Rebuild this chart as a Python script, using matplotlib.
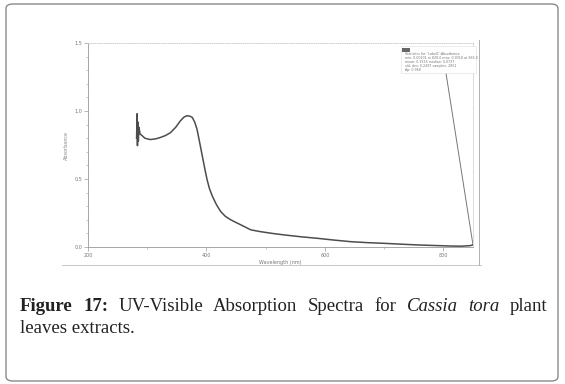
import matplotlib
matplotlib.use('Agg')
import matplotlib.pyplot as plt
from matplotlib.patches import FancyBboxPatch, Rectangle
from matplotlib.lines import Line2D

# Absorbance spectrum.
wavelength = [282, 283, 283.5, 284, 285, 286, 288, 291, 296, 305, 314, 322,
              331, 339, 348, 356, 362, 367, 372, 376, 380, 384, 388, 393,
              397, 401, 405, 410, 417, 424, 432, 441, 450, 458, 475, 491,
              511, 531, 560, 587, 615, 644, 672, 700, 728, 757, 785, 813,
              830, 845, 850]
absorbance = [0.80, 0.98, 0.745, 0.92, 0.78, 0.88, 0.83, 0.82, 0.80, 0.79,
              0.795, 0.805, 0.82, 0.84, 0.88, 0.928, 0.955, 0.965, 0.962,
              0.953, 0.92, 0.867, 0.78, 0.669, 0.58, 0.496, 0.43, 0.373,
              0.31, 0.261, 0.225, 0.20, 0.18, 0.163, 0.126, 0.113, 0.10,
              0.089, 0.075, 0.064, 0.051, 0.039, 0.032, 0.027, 0.021, 0.015,
              0.011, 0.007, 0.006, 0.010, 0.015]

# Instrument retrace at the end of the scan (runs up behind the stats box).
retrace_wl = [850, 800]
retrace_abs = [0.015, 1.40]

x_ticks = [200, 400, 600, 800]
y_ticks = [0.0, 0.5, 1.0, 1.5]

stats_lines = ["Statistics for: 'Label1':Absorbance",
               "min: 0.00101 at 828.0 max: 0.9318 at 366.0",
               "mean: 0.1535 median: 0.0737",
               "std. dev: 0.2497 samples: 2851",
               "Ap: 0.968"]

W, H = 565, 384
fig = plt.figure(figsize=(W / 100, H / 100), dpi=100)
fig.patch.set_facecolor('white')

def fx(px):
    return px / W

def fy(py):
    return 1 - py / H

# Outer rounded frame of the figure panel.
frame = FancyBboxPatch((fx(6), fy(381)), fx(558) - fx(6), fy(4) - fy(381),
                       boxstyle='round,pad=0,rounding_size=0.012',
                       transform=fig.transFigure, facecolor='none',
                       edgecolor='#8a8a8a', linewidth=1.0)
fig.patches.append(frame)

# Scanned chart frame lines.
fig.add_artist(Line2D([fx(62), fx(481)], [fy(265), fy(265)],
                      transform=fig.transFigure, color='#c8c8c8', lw=0.7))
fig.add_artist(Line2D([fx(479), fx(479)], [fy(40), fy(265)],
                      transform=fig.transFigure, color='#b0b0b0', lw=0.7))

ax = fig.add_axes([fx(88), fy(247), fx(473) - fx(88), fy(43) - fy(247)])
ax.plot(wavelength, absorbance, color='#4d4d4d', lw=1.1, zorder=3)
ax.plot(retrace_wl, retrace_abs, color='#777777', lw=0.7, zorder=2)

ax.set_xlim(200, 850)
ax.set_ylim(0, 1.5)
ax.set_xticks(x_ticks)
ax.set_xticklabels([str(v) for v in x_ticks])
ax.set_xticks([300, 500, 700], minor=True)
ax.set_yticks(y_ticks)
ax.set_yticklabels(['%.1f' % v for v in y_ticks])
ax.set_yticks([v / 10 for v in range(16) if v % 5], minor=True)
ax.tick_params(which='major', length=3, width=0.5, color='#999999',
               labelsize=3.5, labelcolor='#777777', pad=1)
ax.tick_params(which='minor', length=1.5, width=0.5, color='#aaaaaa')

ax.spines['left'].set_color('#999999')
ax.spines['bottom'].set_color('#999999')
ax.spines['left'].set_linewidth(0.6)
ax.spines['bottom'].set_linewidth(0.6)
for side in ['top', 'right']:
    ax.spines[side].set_color('#c8c8c8')
    ax.spines[side].set_linestyle(':')
    ax.spines[side].set_linewidth(0.6)

ax.set_xlabel('Wavelength (nm)', fontsize=3.5, color='#777777', labelpad=2)
ax.set_ylabel('Absorbance', fontsize=3.5, color='#888888', labelpad=4)

# Statistics box (top right of the chart).
box = Rectangle((fx(401), fy(73)), fx(476) - fx(401), fy(46) - fy(73),
                transform=fig.transFigure, facecolor='white',
                edgecolor='#dddddd', lw=0.4, zorder=5)
fig.add_artist(box)
fig.add_artist(Rectangle((fx(402), fy(51.5)), fx(8), fy(48) - fy(51.5),
                         transform=fig.transFigure, facecolor='#666666',
                         edgecolor='none', zorder=6))
for i, line in enumerate(stats_lines):
    fig.text(fx(405), fy(54 + 4 * i), line, fontsize=2.3, color='#777777',
             va='center', ha='left', zorder=6)

# Justified caption below the chart.
cap_words = [('Figure', 'bold', 'normal'), ('17:', 'bold', 'normal'),
             ('UV-Visible', 'normal', 'normal'), ('Absorption', 'normal', 'normal'),
             ('Spectra', 'normal', 'normal'), ('for', 'normal', 'normal'),
             ('Cassia', 'normal', 'italic'), ('tora', 'normal', 'italic'),
             ('plant', 'normal', 'normal')]
cap_font = 'Liberation Serif'
cap_size = 13.5
left_px, right_px = 20, 547

renderer = fig.canvas.get_renderer()
texts = []
for word, weight, style in cap_words:
    t = fig.text(0, fy(311), word, fontsize=cap_size, family=cap_font,
                 fontweight=weight, fontstyle=style, color='#222222',
                 va='baseline', ha='left')
    texts.append(t)
widths = [t.get_window_extent(renderer).width for t in texts]
gap = (right_px - left_px - sum(widths)) / (len(texts) - 1)
x = left_px
for t, w in zip(texts, widths):
    t.set_x(fx(x))
    x += w + gap

fig.text(fx(left_px), fy(333), 'leaves extracts.', fontsize=cap_size,
         family=cap_font, color='#222222', va='baseline', ha='left')

fig.savefig('out.png', dpi=100)
